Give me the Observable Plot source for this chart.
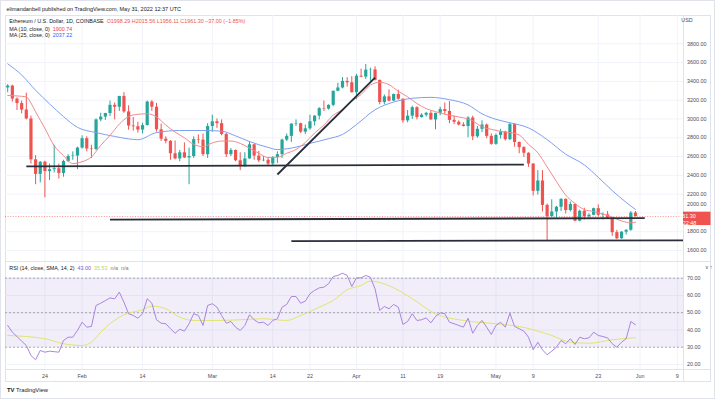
<!DOCTYPE html>
<html><head><meta charset="utf-8">
<script src="https://cdn.jsdelivr.net/npm/d3@7"></script>
<script src="https://cdn.jsdelivr.net/npm/@observablehq/plot@0.6"></script>
<style>
html,body{margin:0;padding:0;background:#fff;}
#root{position:relative;width:715px;height:399px;overflow:hidden;background:#fff;font-family:"Liberation Sans",Arial,sans-serif;}
#root svg{position:absolute;left:0;overflow:visible;}
.ln{position:absolute;background:#e0e3eb;}
</style></head>
<body><div id="root"></div>
<script>
// ---------- DATA ----------
const firstDay = "2022-01-16"; // daily candles, Jan 16 .. May 31 2022
const open = [3330,3350,3212,3164,3095,3000,2565,2410,2540,2440,2460,2470,2420,2547,2600,2605,2690,2790,2680,2675,2990,3020,3058,3145,3125,3240,3075,2925,2917,2882,2930,3180,3125,2885,2785,2762,2630,2575,2640,2585,2600,2780,2775,2620,2920,2970,2950,2835,2620,2665,2555,2495,2575,2725,2605,2555,2560,2520,2590,2620,2775,2815,2945,2950,2860,2895,2970,3030,3110,3105,3145,3295,3330,3400,3385,3280,3455,3445,3520,3522,3410,3175,3235,3190,3260,3210,2980,3030,3120,3015,3040,3060,2990,3060,3100,3080,2985,2965,2935,2920,3010,2810,2890,2935,2815,2730,2825,2860,2780,2940,2750,2695,2635,2520,2230,2340,2080,1960,2010,2060,2145,2025,2090,1912,2018,1960,1975,2045,1975,1980,1945,1790,1725,1795,1815,1998.29];
const high = [3365,3360,3225,3190,3275,3030,2610,2545,2550,2520,2720,2520,2560,2620,2650,2700,2820,2810,2720,3000,3060,3060,3190,3170,3240,3280,3140,3015,2965,2955,3190,3195,3165,2945,2810,2770,2765,2665,2745,2690,2810,2830,2840,2950,3040,3000,2990,2845,2685,2670,2640,2640,2760,2730,2655,2600,2590,2600,2650,2785,2840,2950,2990,2955,2935,3040,3035,3120,3190,3150,3295,3380,3440,3440,3450,3475,3530,3580,3540,3555,3415,3255,3310,3265,3305,3215,3090,3135,3130,3055,3070,3080,3060,3125,3170,3185,3030,2980,2960,3025,3030,2920,2980,2945,2840,2840,2890,2870,2955,2950,2755,2705,2640,2525,2450,2450,2095,2140,2070,2150,2150,2115,2095,2030,2050,1990,2050,2085,2000,2015,1950,1815,1800,1820,2015,2015.56];
const low = [3280,3180,3090,3055,2990,2520,2300,2320,2160,2345,2425,2360,2380,2535,2560,2460,2680,2650,2580,2660,2970,2985,3025,2990,3080,3060,2880,2870,2850,2840,2925,3080,2860,2760,2735,2560,2565,2545,2580,2300,2580,2735,2600,2580,2860,2900,2820,2590,2600,2545,2450,2485,2570,2560,2535,2545,2505,2505,2525,2580,2760,2750,2920,2845,2835,2880,2925,2990,3080,3095,3130,3290,3320,3340,3275,3205,3440,3420,3400,3405,3150,3150,3180,3185,3200,2955,2960,2995,2990,3010,3020,2985,2885,3035,3045,2950,2940,2925,2915,2800,2770,2795,2855,2790,2720,2720,2785,2765,2770,2700,2630,2590,2485,2180,2190,2010,1700,1955,1945,2015,1990,2010,1905,1905,1925,1940,1970,1960,1925,1940,1750,1715,1720,1765,1805,1956.11];
const close = [3350,3212,3164,3095,3000,2565,2410,2540,2440,2460,2470,2420,2547,2600,2605,2690,2790,2680,2675,2990,3020,3058,3145,3125,3240,3075,2925,2917,2882,2930,3180,3125,2885,2785,2762,2630,2575,2640,2585,2600,2780,2775,2620,2920,2970,2950,2835,2620,2665,2555,2495,2575,2725,2605,2555,2560,2520,2590,2620,2775,2815,2945,2950,2860,2895,2970,3030,3110,3105,3145,3295,3330,3400,3385,3280,3455,3445,3520,3522,3410,3175,3235,3190,3260,3210,2980,3030,3120,3015,3040,3060,2990,3060,3100,3080,2985,2965,2935,2920,3010,2810,2890,2935,2815,2730,2825,2860,2780,2940,2750,2695,2635,2520,2230,2340,2080,1960,2010,2060,2145,2025,2090,1912,2018,1960,1975,2045,1975,1980,1945,1790,1725,1795,1815,1998.29,1961.30];

const ma10Dates = ["2022-01-16","2022-01-18","2022-01-20","2022-01-21","2022-01-22","2022-01-24","2022-01-26","2022-01-28","2022-01-30","2022-02-01","2022-02-03","2022-02-05","2022-02-07","2022-02-09","2022-02-11","2022-02-13","2022-02-15","2022-02-17","2022-02-19","2022-02-21","2022-02-23","2022-02-25","2022-02-27","2022-03-01","2022-03-03","2022-03-05","2022-03-07","2022-03-09","2022-03-11","2022-03-13","2022-03-15","2022-03-17","2022-03-19","2022-03-21","2022-03-23","2022-03-25","2022-03-27","2022-03-29","2022-03-31","2022-04-02","2022-04-04","2022-04-06","2022-04-08","2022-04-10","2022-04-12","2022-04-14","2022-04-16","2022-04-18","2022-04-20","2022-04-22","2022-04-24","2022-04-26","2022-04-28","2022-04-30","2022-05-02","2022-05-04","2022-05-06","2022-05-08","2022-05-10","2022-05-12","2022-05-14","2022-05-16","2022-05-18","2022-05-20","2022-05-22","2022-05-24","2022-05-26","2022-05-28","2022-05-30","2022-05-31"];
const ma10Values = [3250,3245,3235,3170,3075,2900,2715,2610,2525,2545,2595,2718,2825,2945,3025,3050,3055,3022,2935,2860,2800,2730,2705,2745,2765,2765,2740,2690,2635,2590,2593,2635,2675,2750,2850,2935,3040,3100,3190,3260,3360,3390,3365,3295,3235,3165,3110,3078,3050,3030,3012,2980,2915,2890,2868,2855,2830,2730,2640,2490,2335,2190,2100,2035,2015,1988,1955,1915,1895,1900.74];

const ma25Dates = ["2022-01-16","2022-01-19","2022-01-22","2022-01-25","2022-01-28","2022-01-31","2022-02-04","2022-02-08","2022-02-11","2022-02-13","2022-02-17","2022-02-22","2022-02-27","2022-03-03","2022-03-06","2022-03-09","2022-03-13","2022-03-15","2022-03-18","2022-03-22","2022-03-26","2022-03-29","2022-04-01","2022-04-05","2022-04-09","2022-04-13","2022-04-17","2022-04-21","2022-04-25","2022-04-28","2022-05-01","2022-05-04","2022-05-08","2022-05-12","2022-05-16","2022-05-20","2022-05-23","2022-05-26","2022-05-29","2022-05-31"];
const ma25Values = [3587,3468,3306,3161,3025,2911,2855,2814,2788,2779,2855,2877,2877,2870,2820,2760,2697,2674,2690,2740,2790,2835,2940,3098,3180,3220,3230,3205,3150,3055,2996,2960,2905,2780,2625,2511,2379,2238,2112,2037.22];

const rsiValues = [42.6,38.7,36.2,33.5,31,25.2,22.7,28.1,27.1,27.7,27.4,27.1,33.9,35.8,35.8,39.7,44.5,41.6,42,54.2,55.5,57,58.6,58,61.9,56.1,49.4,48.4,46.8,49.4,58.1,55.5,45.9,43.9,43.6,40.7,38.1,40.4,39.3,43.6,49.4,48.4,42.6,54.2,55.2,53.2,48.4,43.9,44.9,41.6,39.7,42.6,48.8,45.9,44.1,44.5,42.6,45.5,46.5,53.2,54.8,59.4,59.4,55.5,56.7,61,62.9,64.4,64.8,66.8,71,71.6,72.9,71.6,65.2,70.2,70.2,71.6,70.5,63.8,51.3,53.6,52.3,54.8,53.2,43.2,44.9,49.4,45.5,45.9,47,44.1,47.8,49.9,49.4,44.5,43.6,42.6,41.6,46.8,38.1,42.6,45.5,41.6,37.4,42.6,44.5,41.6,49.7,42,40.7,39.3,35.8,28.5,32.9,28.5,25.6,27.7,30,33.9,32,34.9,31.6,35.8,34.9,35.4,38.7,36.8,36.2,35.4,32,30,32.9,34.9,44.9,43.0];

const rsiSmaDates = ["2022-01-16","2022-01-24","2022-01-28","2022-02-01","2022-02-03","2022-02-05","2022-02-07","2022-02-10","2022-02-14","2022-02-16","2022-02-19","2022-02-22","2022-02-25","2022-03-02","2022-03-07","2022-03-12","2022-03-17","2022-03-20","2022-03-24","2022-03-27","2022-03-30","2022-04-02","2022-04-04","2022-04-09","2022-04-13","2022-04-18","2022-04-24","2022-05-01","2022-05-06","2022-05-13","2022-05-17","2022-05-21","2022-05-26","2022-05-31"];
const rsiSmaValues = [36.8,34.9,32,31,32.9,38.7,43.6,48.8,51.7,53.8,52.3,47.4,45.5,45.5,45.9,46.5,45.5,48.4,53.2,57.1,63.3,65.8,68.3,64.4,58.1,49.4,45.5,43.6,42,36.8,32.9,32.3,34.3,35.53];

// drawn support / trend lines: start date, start price, end date, end price
const trendStart = ["2022-01-20","2022-02-07","2022-03-18","2022-03-15"];
const trendStartPrice = [2495,1928,1700,2409];
const trendEnd = ["2022-05-07","2022-06-02","2022-06-12","2022-04-05"];
const trendEndPrice = [2515,1945,1708,3440];

const lastPrice = 1961.30;
const lastTime = "11:22:48";
const priceTicks = [1600,1800,2200,2400,2600,2800,3000,3200,3400,3600,3800];
const priceTickNearLast = [2000]; // label pushed up by the last-price tag
const rsiTicks = [20,30,40,50,60,70];
const rsiLevels = [30,50,70];
const dateTicks = ["2022-01-24","2022-02-01","2022-02-14","2022-03-01","2022-03-14","2022-03-22","2022-04-01","2022-04-11","2022-04-19","2022-05-01","2022-05-09","2022-05-23","2022-06-01","2022-06-09"];
const dateLabels = ["24","Feb","14","Mar","14","22","Apr","11","19","May","9","23","Jun","9"];

// ---------- BUILD ----------
const UP = "#26a69a", DOWN = "#ef5350";
const DAY = 864e5;
const t0 = new Date(firstDay + "T00:00Z").getTime();
const candles = close.map((c, i) => ({date: new Date(t0 + i * DAY), o: open[i], h: high[i], l: low[i], c}));
const D = s => new Date(s + "T00:00Z");
const ma10 = ma10Dates.map((d, i) => ({date: D(d), v: ma10Values[i]}));
const ma25 = ma25Dates.map((d, i) => ({date: D(d), v: ma25Values[i]}));
const rsi = rsiValues.map((v, i) => ({date: new Date(t0 + i * DAY), v}));
const rsiSma = rsiSmaDates.map((d, i) => ({date: D(d), v: rsiSmaValues[i]}));
const trends = trendStart.map((d, i) => ({x1: D(d), y1: trendStartPrice[i], x2: D(trendEnd[i]), y2: trendEndPrice[i]}));
const ticks = dateTicks.map(D);
const labelOf = new Map(ticks.map((d, i) => [+d, dateLabels[i]]));
const xDomain = [new Date(t0 - 0.473 * DAY), new Date(t0 + 145.33 * DAY)];
const FONT = "Liberation Sans, Arial, sans-serif";
const AX = "#4a4e59";
const fmt = d => d.toFixed(2);

const root = document.getElementById("root");

const price = Plot.plot({
  width: 715, height: 246, marginLeft: 5, marginRight: 32, marginTop: 0, marginBottom: 0,
  style: {fontFamily: FONT, fontSize: "5.4px", background: "transparent", overflow: "visible"},
  x: {type: "utc", domain: xDomain, axis: null},
  y: {domain: [1482.9, 4101.2], axis: null},
  color: {type: "identity"},
  marks: [
    Plot.gridX(ticks, {stroke: "#f0f3fa", strokeOpacity: 1}),
    Plot.gridY(priceTicks.concat(priceTickNearLast), {stroke: "#f0f3fa", strokeOpacity: 1}),
    Plot.ruleY([lastPrice], {stroke: DOWN, strokeDasharray: "1,1.6", strokeWidth: 0.8, strokeOpacity: 0.8}),
    Plot.ruleX(candles, {x: "date", y1: "l", y2: "h", stroke: d => d.c >= d.o ? UP : DOWN, strokeWidth: 1}),
    Plot.ruleX(candles, {x: "date", y1: "o", y2: "c", stroke: d => d.c >= d.o ? UP : DOWN, strokeWidth: 3.2}),
    Plot.line(ma25, {x: "date", y: "v", stroke: "#7d9ff2", strokeWidth: 1, curve: "monotone-x"}),
    Plot.line(ma10, {x: "date", y: "v", stroke: "#f28a8e", strokeWidth: 1, curve: "monotone-x"}),
    Plot.link(trends, {x1: "x1", y1: "y1", x2: "x2", y2: "y2", stroke: "#2a2e39", strokeWidth: 1.8, clip: true}),
    Plot.axisY(priceTicks, {anchor: "right", tickSize: 0, tickPadding: 3.5, tickFormat: fmt, fill: AX, fontSize: 5.4}),
    Plot.axisY(priceTickNearLast, {anchor: "right", tickSize: 0, tickPadding: 3.5, tickFormat: fmt, fill: AX, fontSize: 5.4, dy: -8.5})
  ]
});
price.style.top = "15px";
root.appendChild(price);

// last price tag on the axis
{
  const ys = price.scale("y").apply(lastPrice);
  const g = d3.select(price).append("g").attr("font-family", FONT).attr("font-size", 5.4);
  g.append("rect").attr("x", 683).attr("y", ys - 4.4).attr("width", 27.5).attr("height", 13.4).attr("fill", DOWN);
  g.append("text").attr("x", 686).attr("y", ys).attr("dy", "0.35em").attr("fill", "#fff").text(fmt(lastPrice));
  g.append("text").attr("x", 686).attr("y", ys + 6.6).attr("dy", "0.35em").attr("fill", "#fff").text(lastTime);
  d3.select(price).append("text").attr("x", 687).attr("y", 5).attr("dy", "0.35em").attr("fill", AX)
    .attr("font-size", 5.4).attr("font-family", FONT).text("USD");
}

const rsiPlot = Plot.plot({
  width: 715, height: 119, marginLeft: 5, marginRight: 32, marginTop: 0, marginBottom: 12,
  style: {fontFamily: FONT, fontSize: "5.4px", background: "transparent", overflow: "visible"},
  x: {type: "utc", domain: xDomain, axis: null},
  y: {domain: [17.07, 79.1], axis: null},
  marks: [
    Plot.gridX(ticks, {stroke: "#f0f3fa", strokeOpacity: 1}),
    Plot.gridY(rsiTicks, {stroke: "#f0f3fa", strokeOpacity: 1}),
    Plot.rect([[rsiLevels[0], rsiLevels[2]]], {y1: d => d[0], y2: d => d[1], fill: "#7e57c2", fillOpacity: 0.1}),
    Plot.ruleY(rsiLevels, {stroke: "#787b86", strokeDasharray: "2,2", strokeOpacity: 0.75, strokeWidth: 0.8}),
    Plot.line(rsiSma, {x: "date", y: "v", stroke: "#dfe56e", strokeWidth: 1, curve: "monotone-x"}),
    Plot.line(rsi, {x: "date", y: "v", stroke: "#a985de", strokeWidth: 1}),
    Plot.axisY(rsiTicks, {anchor: "right", tickSize: 0, tickPadding: 3.5, tickFormat: fmt, fill: AX, fontSize: 5.4}),
    Plot.axisX(ticks, {tickSize: 0, tickPadding: 4.6, tickFormat: d => labelOf.get(+d), fill: AX, fontSize: 5.4})
  ]
});
rsiPlot.style.top = "262px";
root.appendChild(rsiPlot);

// frame lines
const lines = [
  [0, 0, 715, 1], [0, 398, 715, 1], [0, 0, 1, 399], [714, 0, 1, 399],
  [5, 15, 706, 1], [5, 381, 706, 1], [5, 15, 1, 367], [710, 15, 1, 367],
  [683, 15, 1, 367], [5, 261, 706, 1], [5, 369, 706, 1]
];
for (const [l, t, w, h] of lines) {
  const e = document.createElement("div");
  e.className = "ln";
  Object.assign(e.style, {left: l + "px", top: t + "px", width: w + "px", height: h + "px"});
  root.insertBefore(e, root.firstChild);
}

// text overlay
const ov = d3.select(root).append("svg").attr("width", 715).attr("height", 399).style("top", "0px")
  .attr("font-family", FONT).style("pointer-events", "none");
function txt(x, y, parts, size) {
  const t = ov.append("text").attr("x", x).attr("y", y).attr("dy", "0.35em").attr("font-size", size).attr("xml:space", "preserve");
  for (const [s, c, w] of parts) t.append("tspan").attr("fill", c).attr("font-weight", w || null).text(s);
  return t;
}
const DARK = "#131722";
txt(6.5, 9.3, [["elimandanbell published on TradingView.com, May 31, 2022 12:37 UTC", DARK]], 5.5);
txt(9.3, 20.7, [["Ethereum / U.S. Dollar, 1D, COINBASE  ", DARK], ["O1998.29 H2015.56 L1956.11 C1961.30 −37.00 (−1.85%)", DOWN]], 5.4);
txt(9.3, 28.7, [["MA (10, close, 0)  ", DARK], ["1900.74", "#f23645"]], 5.4);
txt(9.3, 35.3, [["MA (25, close, 0)  ", DARK], ["2037.22", "#2962ff"]], 5.4);
txt(9.3, 267.7, [["RSI (14, close, SMA, 14, 2)  ", DARK], ["43.00", "#7e57c2"], ["  ", DARK], ["35.53", "#c6d62c"], ["  n/a  n/a", "#787b86"]], 5.4);
txt(7, 389.5, [["TV", DARK, "900"], [" TradingView", DARK]], 5.8);
</script>
</body></html>
